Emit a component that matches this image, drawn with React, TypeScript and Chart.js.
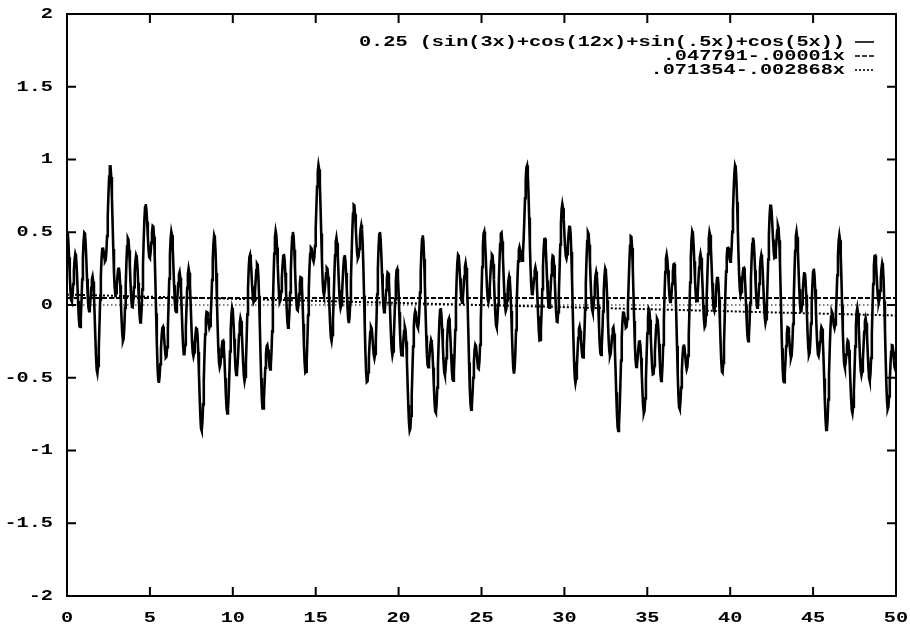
import React, { useEffect, useRef } from "react";
import { Chart, registerables } from "chart.js";

Chart.register(...registerables);

// Plotted expression: 0.25 (sin(3x)+cos(12x)+sin(.5x)+cos(5x)) over x in [0, 50]
const xRange = [0, 50];
const curveScale = 0.25;
const curveTerms: [string, number][] = [
  ["sin", 3],
  ["cos", 12],
  ["sin", 0.5],
  ["cos", 5],
];
const sampleCount = 1200;

// Straight-line fits: [intercept, slope]
const fitFlat = [0.047791, -0.00001];
const fitSlope = [0.071354, -0.002868];

const legendLabels = [
  "0.25 (sin(3x)+cos(12x)+sin(.5x)+cos(5x))",
  ".047791-.00001x",
  ".071354-.002868x",
];

const xTicks = [0, 5, 10, 15, 20, 25, 30, 35, 40, 45, 50];
const xTickLabels = ["0", "5", "10", "15", "20", "25", "30", "35", "40", "45", "50"];
const yTicks = [-2, -1.5, -1, -0.5, 0, 0.5, 1, 1.5, 2];
const yTickLabels = ["-2", "-1.5", "-1", "-0.5", "0", "0.5", "1", "1.5", "2"];

const INK = "#000000";
const FONT = "bold 15px 'Liberation Mono', 'DejaVu Sans Mono', monospace";
const STRETCH = 1.35;

function evalCurve(x: number): number {
  let s = 0;
  for (const [fn, k] of curveTerms) {
    s += fn === "sin" ? Math.sin(k * x) : Math.cos(k * x);
  }
  return curveScale * s;
}

function curvePoints() {
  const pts: { x: number; y: number }[] = [];
  for (let i = 0; i <= sampleCount; i++) {
    const x = xRange[0] + ((xRange[1] - xRange[0]) * i) / sampleCount;
    pts.push({ x, y: evalCurve(x) });
  }
  return pts;
}

function linePoints(coef: number[]) {
  return xRange.map((x) => ({ x, y: coef[0] + coef[1] * x }));
}

const dashStyles: number[][] = [[], [5, 2], [2, 2]];

function stretchedText(
  ctx: CanvasRenderingContext2D,
  text: string,
  x: number,
  y: number,
  align: CanvasTextAlign
) {
  ctx.save();
  ctx.translate(x, y);
  ctx.scale(STRETCH, 1);
  ctx.textAlign = align;
  ctx.textBaseline = "middle";
  ctx.font = FONT;
  ctx.fillStyle = INK;
  ctx.fillText(text, 0, 0);
  ctx.restore();
}

const framePlugin = {
  id: "gnuFrame",
  beforeDatasetsDraw(chart: any) {
    const { ctx, chartArea, scales } = chart;
    const y0 = scales.y.getPixelForValue(0);
    ctx.save();
    ctx.strokeStyle = INK;
    ctx.lineWidth = 1.2;
    ctx.setLineDash([1.5, 2.5]);
    ctx.beginPath();
    ctx.moveTo(chartArea.left, y0);
    ctx.lineTo(chartArea.right, y0);
    ctx.stroke();
    ctx.restore();
  },
  afterDraw(chart: any) {
    const { ctx, chartArea, scales } = chart;
    const { left, right, top, bottom } = chartArea;
    const tickLen = 9;
    ctx.save();
    ctx.strokeStyle = INK;
    ctx.lineWidth = 2;
    ctx.setLineDash([]);
    ctx.strokeRect(left, top, right - left, bottom - top);

    ctx.beginPath();
    xTicks.forEach((v) => {
      const px = scales.x.getPixelForValue(v);
      ctx.moveTo(px, bottom);
      ctx.lineTo(px, bottom - tickLen);
      ctx.moveTo(px, top);
      ctx.lineTo(px, top + tickLen);
    });
    yTicks.forEach((v) => {
      const py = scales.y.getPixelForValue(v);
      ctx.moveTo(left, py);
      ctx.lineTo(left + tickLen, py);
      ctx.moveTo(right, py);
      ctx.lineTo(right - tickLen, py);
    });
    ctx.stroke();
    ctx.restore();

    xTicks.forEach((v, i) => {
      const px = scales.x.getPixelForValue(v);
      stretchedText(ctx, xTickLabels[i], px, bottom + 22, "center");
    });
    yTicks.forEach((v, i) => {
      const py = scales.y.getPixelForValue(v);
      stretchedText(ctx, yTickLabels[i], left - 14, py, "right");
    });

    // key in the top-right corner
    const textRight = right - 51;
    const sampleL = right - 41;
    const sampleR = right - 22;
    legendLabels.forEach((label, i) => {
      const ry = top + 28 + i * 14;
      stretchedText(ctx, label, textRight, ry, "right");
      ctx.save();
      ctx.strokeStyle = INK;
      ctx.lineWidth = 1.6;
      ctx.setLineDash(dashStyles[i]);
      ctx.beginPath();
      ctx.moveTo(sampleL, ry);
      ctx.lineTo(sampleR, ry);
      ctx.stroke();
      ctx.restore();
    });
  },
};

export default function App() {
  const canvasRef = useRef<HTMLCanvasElement | null>(null);

  useEffect(() => {
    const canvas = canvasRef.current;
    if (!canvas) return;
    const chart = new Chart(canvas, {
      type: "line",
      data: {
        datasets: [
          {
            label: legendLabels[0],
            data: curvePoints(),
            borderColor: INK,
            borderWidth: 2.6,
            pointRadius: 0,
            tension: 0,
            fill: false,
          },
          {
            label: legendLabels[1],
            data: linePoints(fitFlat),
            borderColor: INK,
            borderWidth: 2,
            borderDash: dashStyles[1],
            pointRadius: 0,
            fill: false,
          },
          {
            label: legendLabels[2],
            data: linePoints(fitSlope),
            borderColor: INK,
            borderWidth: 2,
            borderDash: dashStyles[2],
            pointRadius: 0,
            fill: false,
          },
        ],
      },
      options: {
        responsive: false,
        animation: false,
        parsing: false as any,
        layout: { padding: { left: 67, right: 14, top: 14, bottom: 32 } },
        plugins: { legend: { display: false }, tooltip: { enabled: false } },
        scales: {
          x: { type: "linear", min: xRange[0], max: xRange[1], display: false },
          y: { type: "linear", min: -2, max: 2, display: false },
        },
      },
      plugins: [framePlugin],
    });
    return () => chart.destroy();
  }, []);

  return (
    <div
      style={{
        position: "absolute",
        left: 0,
        top: 0,
        width: 910,
        height: 628,
        background: "#ffffff",
      }}
    >
      <canvas ref={canvasRef} width={910} height={628} />
    </div>
  );
}
